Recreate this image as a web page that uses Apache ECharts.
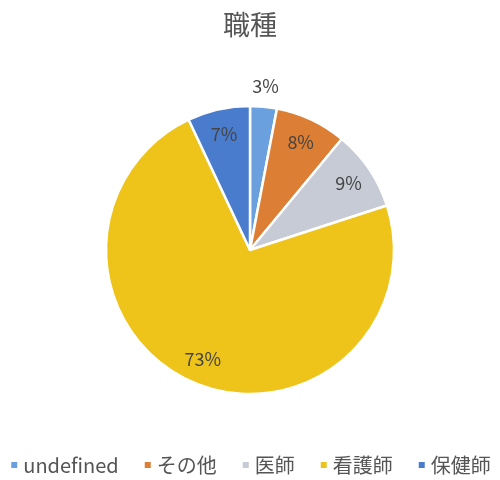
<!DOCTYPE html>
<html><head><meta charset="utf-8">
<script src="https://cdn.jsdelivr.net/npm/echarts@6/dist/echarts.min.js"></script>
<style>html,body{margin:0;padding:0;background:#fff}#c{width:500px;height:480px}</style>
</head><body><div id="c"></div>
<script>
const categories = ['undefined', 'その他', '医師', '看護師', '保健師'];
const values = [3, 8, 9, 73, 7];
const colors = ['#6aa0de', '#dc7e33', '#c6cbd6', '#eec41b', '#4a7ccd'];
const FONT = '"Noto Sans CJK JP", "Noto Sans", sans-serif';

const chart = echarts.init(document.getElementById('c'));
const mainData = categories.map((n, i) => ({
  name: n, value: values[i], itemStyle: { color: colors[i] }
}));
const innerLabelData = categories.map((n, i) => ({
  name: n, value: values[i], label: { show: i !== 0 }
}));
const outerLabelData = categories.map((n, i) => ({
  name: n, value: values[i], label: { show: i === 0 }
}));
const labelSeries = (radius, data) => ({
  type: 'pie', radius, center: [250, 250], startAngle: 90, clockwise: true, silent: true,
  legendHoverLink: false,
  itemStyle: { color: 'rgba(0,0,0,0)' },
  label: { position: 'inside', formatter: p => p.value + '%', fontFamily: FONT, fontSize: 18, color: '#444' },
  labelLine: { show: false },
  data
});
chart.setOption({
  animation: false,
  title: { text: '職種', left: 'center', top: 6,
    textStyle: { fontFamily: FONT, fontSize: 27, fontWeight: 'normal', color: '#555' } },
  legend: { bottom: 0, left: 'center', itemWidth: 8, itemHeight: 8, itemGap: 24, icon: 'rect',
    data: categories,
    textStyle: { fontFamily: FONT, fontSize: 20, color: '#555' } },
  series: [
    { type: 'pie', radius: [0, 144], center: [250, 250], startAngle: 90, clockwise: true,
      itemStyle: { borderColor: '#fff', borderWidth: 2.5 },
      label: { show: false }, labelLine: { show: false },
      data: mainData },
    labelSeries([88, 144], innerLabelData),
    labelSeries([144, 180], outerLabelData)
  ]
});
</script></body></html>
